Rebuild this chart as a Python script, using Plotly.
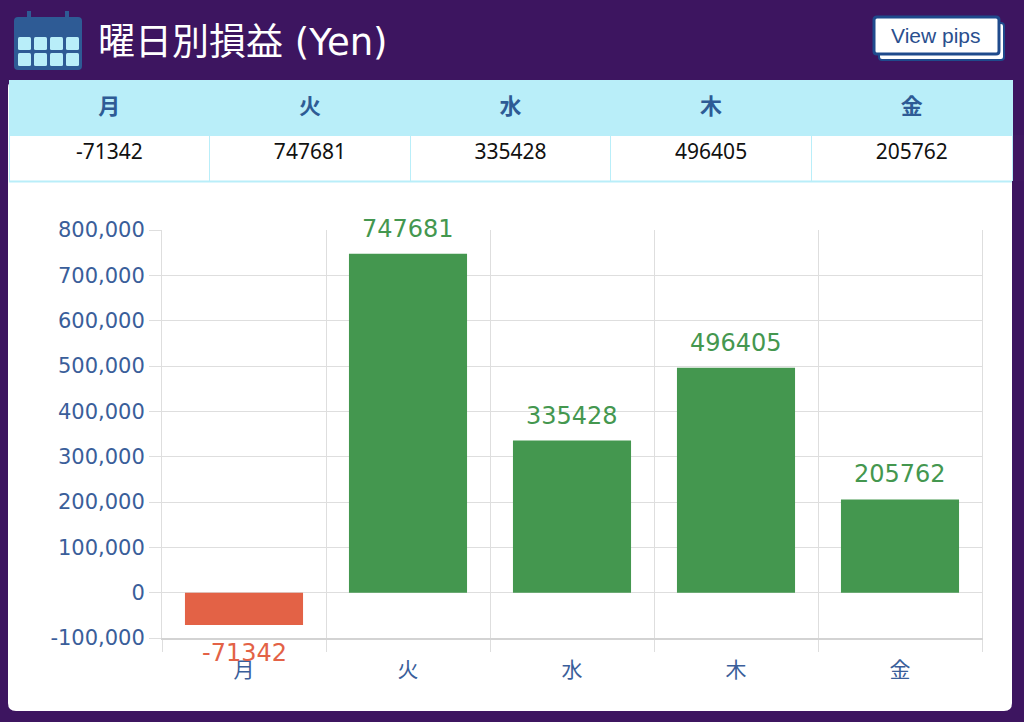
import plotly.graph_objects as go

# 曜日別損益 (Yen)
days = ["月", "火", "水", "木", "金"]
pnl = [-71342, 747681, 335428, 496405, 205762]
y_ticks = [-100000, 0, 100000, 200000, 300000, 400000, 500000, 600000, 700000, 800000]
y_labels = ["-100,000", "0", "100,000", "200,000", "300,000", "400,000",
            "500,000", "600,000", "700,000", "800,000"]

W, H = 1024, 722
PURPLE = "#3d1560"
BLUE = "#2e5b95"
LIGHT = "#b9eef9"
GREEN = "#44974f"
RED = "#e36246"
GRID = "#dedede"
CJK = "Noto Sans CJK JP"
LATIN = "DejaVu Sans, Noto Sans CJK JP"


def px(x):
    return x / W


def py(y):
    return 1 - y / H


def rrect(x0, y0, x1, y1, r):
    # rounded rectangle path in paper coords (pixel input)
    return (f"M {px(x0 + r)} {py(y0)} L {px(x1 - r)} {py(y0)} "
            f"Q {px(x1)} {py(y0)} {px(x1)} {py(y0 + r)} "
            f"L {px(x1)} {py(y1 - r)} Q {px(x1)} {py(y1)} {px(x1 - r)} {py(y1)} "
            f"L {px(x0 + r)} {py(y1)} Q {px(x0)} {py(y1)} {px(x0)} {py(y1 - r)} "
            f"L {px(x0)} {py(y0 + r)} Q {px(x0)} {py(y0)} {px(x0 + r)} {py(y0)} Z")


colors = [GREEN if v >= 0 else RED for v in pnl]

fig = go.Figure()

fig.add_trace(go.Table(
    domain=dict(x=[px(9), px(1012)], y=[py(182), py(80)]),
    columnwidth=[1] * len(days),
    header=dict(values=[f"<b>{d}</b>" for d in days],
                fill_color=LIGHT, line_color=LIGHT, height=55,
                font=dict(family=CJK, size=22, color=BLUE), align="center"),
    cells=dict(values=[[str(v)] for v in pnl],
               fill_color="white", line_color=LIGHT, height=47,
               font=dict(family="Noto Sans", size=21, color="#111111"), align="center"),
))

fig.add_trace(go.Bar(
    x=days, y=pnl, marker_color=colors, marker_line_width=0,
    hoverinfo="skip", showlegend=False,
))

P = dict(xref="paper", yref="paper")
shapes = [
    # white panel
    dict(type="path", path=rrect(8, 80, 1012, 711, 8), fillcolor="white",
         line_width=0, layer="below", **P),
    # table bottom border
    dict(type="line", x0=px(9), x1=px(1012), y0=py(181.5), y1=py(181.5),
         line=dict(color=LIGHT, width=2), **P),
    # calendar icon
    dict(type="path", path=rrect(14, 17, 82, 70, 4), fillcolor=BLUE, line_width=0, **P),
    dict(type="line", x0=px(29), x1=px(29), y0=py(11), y1=py(20),
         line=dict(color=BLUE, width=4), **P),
    dict(type="line", x0=px(67), x1=px(67), y0=py(11), y1=py(20),
         line=dict(color=BLUE, width=4), **P),
    # button shadow + button
    dict(type="path", path=rrect(879, 23, 1004, 60, 3), fillcolor="white",
         line=dict(color="#1f4a8c", width=2), **P),
    dict(type="path", path=rrect(874, 17, 999, 54, 3), fillcolor="white",
         line=dict(color="#1f4a8c", width=3), **P),
]
for (y0, y1) in [(37, 50), (53, 66)]:
    for (x0, x1) in [(18, 31), (34, 47), (50, 63), (66, 79)]:
        shapes.append(dict(type="path", path=rrect(x0, y0, x1, y1, 1.5),
                           fillcolor=LIGHT, line_width=0, **P))

annotations = [
    dict(text="曜日別損益 (Yen)", x=px(96), y=py(42), xanchor="left", yanchor="middle",
         showarrow=False, font=dict(family=LATIN, size=37, color="white"), **P),
    dict(text="View pips", x=px(936), y=py(36), xanchor="center", yanchor="middle",
         showarrow=False, font=dict(family="Liberation Sans", size=21, color="#2a4f8e"), **P),
]
for d, v, c in zip(days, pnl, colors):
    annotations.append(dict(
        text=str(v), x=d, y=v, xref="x", yref="y", showarrow=False,
        yanchor="middle", yshift=25 if v >= 0 else -28,
        font=dict(family="DejaVu Sans", size=24, color=c)))

fig.update_layout(
    width=W, height=H, margin=dict(l=0, r=0, t=0, b=0, autoexpand=False),
    paper_bgcolor=PURPLE, plot_bgcolor="white",
    bargap=0.28, shapes=shapes, annotations=annotations,
    font=dict(family=CJK),
    xaxis=dict(domain=[px(162), px(982)], tickson="boundaries", ticks="outside",
               ticklen=12, tickcolor=GRID, showgrid=True, gridcolor=GRID,
               showline=True, linecolor="#d3d3d3", linewidth=2, zeroline=False,
               automargin=False, ticklabelstandoff=12,
               tickfont=dict(family=CJK, size=21, color="#3a5e9a")),
    yaxis=dict(domain=[py(638), py(230)], range=[-100000, 800000],
               tickvals=y_ticks, ticktext=y_labels, ticks="outside", ticklen=12,
               tickcolor=GRID, gridcolor=GRID, zeroline=False,
               showline=True, linecolor=GRID, mirror=True,
               automargin=False,
               tickfont=dict(family="DejaVu Sans", size=21, color="#3a5e9a")),
)

fig.write_html("out.html", config={"displayModeBar": False},
               post_script="document.body.style.margin='0';document.body.style.overflow='hidden';")
